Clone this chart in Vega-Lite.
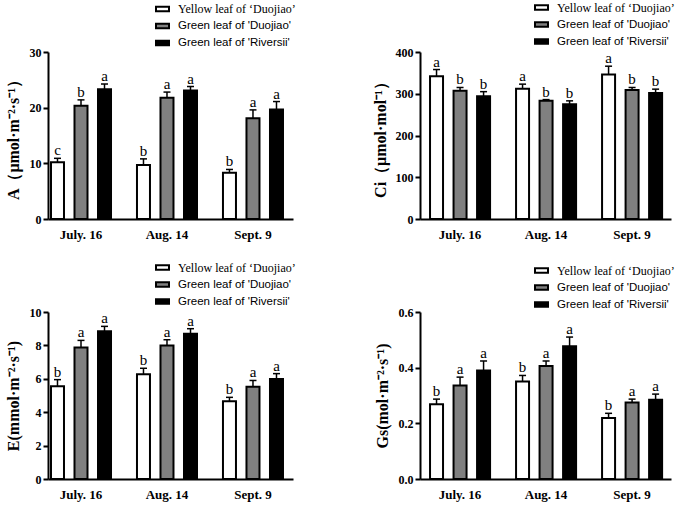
{
  "$schema": "https://vega.github.io/schema/vega-lite/v6.json",
  "padding": {"left": 5, "top": 0, "right": 5, "bottom": 5},
  "background": "white",
  "columns": 2,
  "spacing": {"row": 93, "column": 127},
  "bounds": "flush",
  "resolve": {"scale": {"fill": "independent", "x": "independent", "y": "independent", "xOffset": "independent"}, "legend": {"fill": "independent"}},
  "config": {
    "view": {"stroke": null},
    "axis": {"domainColor": "black", "domainWidth": 2, "tickColor": "black", "tickWidth": 2, "tickSize": 5, "grid": false, "labelColor": "black", "labelFont": "Liberation Serif", "labelFontWeight": "bold", "titleColor": "black", "titleFont": "Liberation Serif", "titleFontWeight": "bold", "labelOverlap": false},
    "axisX": {"ticks": false, "labelFontSize": 13, "labelPadding": 9, "labelAngle": 0, "title": null},
    "axisY": {"labelFontSize": 12, "labelPadding": 2, "titleFontSize": 16, "titlePadding": 8, "tickCount": 10}
  },
  "datasets": {
    "d": [
      {"panel": "A", "date": "July. 16", "group": "Yellow leaf of ‘Duojiao’", "value": 10.2, "upper": 10.9, "letter": "c"},
      {"panel": "A", "date": "July. 16", "group": "Green leaf of 'Duojiao'", "value": 20.35, "upper": 21.4, "letter": "b"},
      {"panel": "A", "date": "July. 16", "group": "Green leaf of 'Riversii'", "value": 23.3, "upper": 24.25, "letter": "a"},
      {"panel": "A", "date": "Aug. 14", "group": "Yellow leaf of ‘Duojiao’", "value": 9.7, "upper": 10.8, "letter": "b"},
      {"panel": "A", "date": "Aug. 14", "group": "Green leaf of 'Duojiao'", "value": 21.8, "upper": 22.8, "letter": "a"},
      {"panel": "A", "date": "Aug. 14", "group": "Green leaf of 'Riversii'", "value": 23.1, "upper": 23.8, "letter": "a"},
      {"panel": "A", "date": "Sept. 9", "group": "Yellow leaf of ‘Duojiao’", "value": 8.3, "upper": 8.9, "letter": "b"},
      {"panel": "A", "date": "Sept. 9", "group": "Green leaf of 'Duojiao'", "value": 18.1, "upper": 19.6, "letter": "a"},
      {"panel": "A", "date": "Sept. 9", "group": "Green leaf of 'Riversii'", "value": 19.65, "upper": 21.1, "letter": "a"},
      {"panel": "Ci", "date": "July. 16", "group": "Yellow leaf of ‘Duojiao’", "value": 342, "upper": 358, "letter": "a"},
      {"panel": "Ci", "date": "July. 16", "group": "Green leaf of 'Duojiao'", "value": 307, "upper": 315, "letter": "b"},
      {"panel": "Ci", "date": "July. 16", "group": "Green leaf of 'Riversii'", "value": 294, "upper": 305, "letter": "b"},
      {"panel": "Ci", "date": "Aug. 14", "group": "Yellow leaf of ‘Duojiao’", "value": 312, "upper": 323, "letter": "a"},
      {"panel": "Ci", "date": "Aug. 14", "group": "Green leaf of 'Duojiao'", "value": 283, "upper": 286, "letter": "b"},
      {"panel": "Ci", "date": "Aug. 14", "group": "Green leaf of 'Riversii'", "value": 275, "upper": 283, "letter": "b"},
      {"panel": "Ci", "date": "Sept. 9", "group": "Yellow leaf of ‘Duojiao’", "value": 346, "upper": 366, "letter": "a"},
      {"panel": "Ci", "date": "Sept. 9", "group": "Green leaf of 'Duojiao'", "value": 309, "upper": 315, "letter": "b"},
      {"panel": "Ci", "date": "Sept. 9", "group": "Green leaf of 'Riversii'", "value": 302, "upper": 311, "letter": "b"},
      {"panel": "E", "date": "July. 16", "group": "Yellow leaf of ‘Duojiao’", "value": 5.55, "upper": 5.95, "letter": "b"},
      {"panel": "E", "date": "July. 16", "group": "Green leaf of 'Duojiao'", "value": 7.88, "upper": 8.3, "letter": "a"},
      {"panel": "E", "date": "July. 16", "group": "Green leaf of 'Riversii'", "value": 8.84, "upper": 9.14, "letter": "a"},
      {"panel": "E", "date": "Aug. 14", "group": "Yellow leaf of ‘Duojiao’", "value": 6.27, "upper": 6.63, "letter": "b"},
      {"panel": "E", "date": "Aug. 14", "group": "Green leaf of 'Duojiao'", "value": 8.0, "upper": 8.34, "letter": "a"},
      {"panel": "E", "date": "Aug. 14", "group": "Green leaf of 'Riversii'", "value": 8.7, "upper": 9.0, "letter": "a"},
      {"panel": "E", "date": "Sept. 9", "group": "Yellow leaf of ‘Duojiao’", "value": 4.65, "upper": 4.89, "letter": "b"},
      {"panel": "E", "date": "Sept. 9", "group": "Green leaf of 'Duojiao'", "value": 5.53, "upper": 5.9, "letter": "a"},
      {"panel": "E", "date": "Sept. 9", "group": "Green leaf of 'Riversii'", "value": 5.99, "upper": 6.31, "letter": "a"},
      {"panel": "Gs", "date": "July. 16", "group": "Yellow leaf of ‘Duojiao’", "value": 0.269, "upper": 0.287, "letter": "b"},
      {"panel": "Gs", "date": "July. 16", "group": "Green leaf of 'Duojiao'", "value": 0.336, "upper": 0.366, "letter": "a"},
      {"panel": "Gs", "date": "July. 16", "group": "Green leaf of 'Riversii'", "value": 0.39, "upper": 0.424, "letter": "a"},
      {"panel": "Gs", "date": "Aug. 14", "group": "Yellow leaf of ‘Duojiao’", "value": 0.35, "upper": 0.372, "letter": "b"},
      {"panel": "Gs", "date": "Aug. 14", "group": "Green leaf of 'Duojiao'", "value": 0.406, "upper": 0.424, "letter": "a"},
      {"panel": "Gs", "date": "Aug. 14", "group": "Green leaf of 'Riversii'", "value": 0.477, "upper": 0.51, "letter": "a"},
      {"panel": "Gs", "date": "Sept. 9", "group": "Yellow leaf of ‘Duojiao’", "value": 0.219, "upper": 0.236, "letter": "b"},
      {"panel": "Gs", "date": "Sept. 9", "group": "Green leaf of 'Duojiao'", "value": 0.275, "upper": 0.287, "letter": "a"},
      {"panel": "Gs", "date": "Sept. 9", "group": "Green leaf of 'Riversii'", "value": 0.285, "upper": 0.305, "letter": "a"}
    ]
  },
  "data": {"name": "d"},
  "concat": [
    {
      "width": 245, "height": 167,
      "transform": [{"filter": "datum.panel === 'A'"}],
      "encoding": {
        "x": {"field": "date", "type": "nominal", "sort": ["July. 16", "Aug. 14", "Sept. 9"], "scale": {"paddingInner": 0.302, "paddingOuter": 0.0756, "align": 0.23}, "axis": {"title": null}},
        "xOffset": {"field": "group", "type": "nominal", "sort": ["Yellow leaf of ‘Duojiao’", "Green leaf of 'Duojiao'", "Green leaf of 'Riversii'"], "scale": {"paddingInner": 0.447, "paddingOuter": 0}}
      },
      "layer": [
        {"mark": {"type": "bar", "stroke": "black", "strokeWidth": 2},
         "encoding": {
           "y": {"field": "value", "type": "quantitative", "title": "A（μmol·m⁻²·s⁻¹）", "scale": {"domain": [0, 30], "nice": false}, "axis": {"values": [0, 10, 20, 30], "labelOverlap": false, "tickCount": 10}},
           "fill": {"field": "group", "type": "nominal", "scale": {"domain": ["Yellow leaf of ‘Duojiao’", "Green leaf of 'Duojiao'", "Green leaf of 'Riversii'"], "range": ["white", "#808080", "black"]},
             "legend": {"orient": "none", "legendX": 107, "legendY": -50.5, "title": null, "direction": "vertical", "symbolType": "M-1,-0.33H1V0.33H-1Z", "symbolSize": 169, "symbolStrokeWidth": 2, "symbolStrokeColor": "black", "labelFont": "Liberation Sans", "labelFontSize": 11.5, "labelColor": "black", "labelOffset": 8, "labelLimit": 0, "rowPadding": 3, "padding": 0,
               "encode": {"labels": {"update": {"font": {"signal": "datum.index === 0 ? 'Liberation Serif' : 'Liberation Sans'"}, "fontSize": {"signal": "datum.index === 0 ? 12 : 11.5"}}}}}}
         }},
        {"mark": {"type": "rule", "strokeWidth": 1.5, "color": "black"},
         "encoding": {"y": {"field": "value", "type": "quantitative", "title": "A（μmol·m⁻²·s⁻¹）", "scale": {"domain": [0, 30], "nice": false}}, "y2": {"field": "upper"}}},
        {"mark": {"type": "tick", "orient": "horizontal", "size": 7, "thickness": 1.5, "color": "black", "opacity": 1},
         "encoding": {"y": {"field": "upper", "type": "quantitative", "title": "A（μmol·m⁻²·s⁻¹）", "scale": {"domain": [0, 30], "nice": false}}}},
        {"mark": {"type": "text", "font": "Liberation Serif", "fontSize": 15, "dy": -3, "baseline": "alphabetic", "color": "black"},
         "encoding": {"y": {"field": "upper", "type": "quantitative", "title": "A（μmol·m⁻²·s⁻¹）", "scale": {"domain": [0, 30], "nice": false}}, "text": {"field": "letter"}}}
      ]
    },
    {
      "width": 251, "height": 167,
      "transform": [{"filter": "datum.panel === 'Ci'"}],
      "encoding": {
        "x": {"field": "date", "type": "nominal", "sort": ["July. 16", "Aug. 14", "Sept. 9"], "scale": {"paddingInner": 0.302, "paddingOuter": 0.11, "align": 0.53}, "axis": {"title": null}},
        "xOffset": {"field": "group", "type": "nominal", "sort": ["Yellow leaf of ‘Duojiao’", "Green leaf of 'Duojiao'", "Green leaf of 'Riversii'"], "scale": {"paddingInner": 0.447, "paddingOuter": 0}}
      },
      "layer": [
        {"mark": {"type": "bar", "stroke": "black", "strokeWidth": 2},
         "encoding": {
           "y": {"field": "value", "type": "quantitative", "title": "Ci（μmol·mol⁻¹）", "scale": {"domain": [0, 400], "nice": false}, "axis": {"values": [0, 100, 200, 300, 400], "titlePadding": 7, "labelOverlap": false, "tickCount": 10}},
           "fill": {"field": "group", "type": "nominal", "scale": {"domain": ["Yellow leaf of ‘Duojiao’", "Green leaf of 'Duojiao'", "Green leaf of 'Riversii'"], "range": ["white", "#808080", "black"]},
             "legend": {"orient": "none", "legendX": 114, "legendY": -52, "title": null, "direction": "vertical", "symbolType": "M-1,-0.33H1V0.33H-1Z", "symbolSize": 169, "symbolStrokeWidth": 2, "symbolStrokeColor": "black", "labelFont": "Liberation Sans", "labelFontSize": 11.5, "labelColor": "black", "labelOffset": 8, "labelLimit": 0, "rowPadding": 3, "padding": 0,
               "encode": {"labels": {"update": {"font": {"signal": "datum.index === 0 ? 'Liberation Serif' : 'Liberation Sans'"}, "fontSize": {"signal": "datum.index === 0 ? 12 : 11.5"}}}}}}
         }},
        {"mark": {"type": "rule", "strokeWidth": 1.5, "color": "black"},
         "encoding": {"y": {"field": "value", "type": "quantitative", "title": "Ci（μmol·mol⁻¹）", "scale": {"domain": [0, 400], "nice": false}}, "y2": {"field": "upper"}}},
        {"mark": {"type": "tick", "orient": "horizontal", "size": 7, "thickness": 1.5, "color": "black", "opacity": 1},
         "encoding": {"y": {"field": "upper", "type": "quantitative", "title": "Ci（μmol·mol⁻¹）", "scale": {"domain": [0, 400], "nice": false}}}},
        {"mark": {"type": "text", "font": "Liberation Serif", "fontSize": 15, "dy": -3, "baseline": "alphabetic", "color": "black"},
         "encoding": {"y": {"field": "upper", "type": "quantitative", "title": "Ci（μmol·mol⁻¹）", "scale": {"domain": [0, 400], "nice": false}}, "text": {"field": "letter"}}}
      ]
    },
    {
      "width": 245, "height": 167,
      "transform": [{"filter": "datum.panel === 'E'"}],
      "encoding": {
        "x": {"field": "date", "type": "nominal", "sort": ["July. 16", "Aug. 14", "Sept. 9"], "scale": {"paddingInner": 0.302, "paddingOuter": 0.0756, "align": 0.23}, "axis": {"title": null}},
        "xOffset": {"field": "group", "type": "nominal", "sort": ["Yellow leaf of ‘Duojiao’", "Green leaf of 'Duojiao'", "Green leaf of 'Riversii'"], "scale": {"paddingInner": 0.447, "paddingOuter": 0}}
      },
      "layer": [
        {"mark": {"type": "bar", "stroke": "black", "strokeWidth": 2},
         "encoding": {
           "y": {"field": "value", "type": "quantitative", "title": "E(mmol·m⁻²·s⁻¹)", "scale": {"domain": [0, 10], "nice": false}, "axis": {"values": [0, 2, 4, 6, 8, 10], "labelOverlap": false, "tickCount": 10}},
           "fill": {"field": "group", "type": "nominal", "scale": {"domain": ["Yellow leaf of ‘Duojiao’", "Green leaf of 'Duojiao'", "Green leaf of 'Riversii'"], "range": ["white", "#808080", "black"]},
             "legend": {"orient": "none", "legendX": 107, "legendY": -52, "title": null, "direction": "vertical", "symbolType": "M-1,-0.33H1V0.33H-1Z", "symbolSize": 169, "symbolStrokeWidth": 2, "symbolStrokeColor": "black", "labelFont": "Liberation Sans", "labelFontSize": 11.5, "labelColor": "black", "labelOffset": 8, "labelLimit": 0, "rowPadding": 3, "padding": 0,
               "encode": {"labels": {"update": {"font": {"signal": "datum.index === 0 ? 'Liberation Serif' : 'Liberation Sans'"}, "fontSize": {"signal": "datum.index === 0 ? 12 : 11.5"}}}}}}
         }},
        {"mark": {"type": "rule", "strokeWidth": 1.5, "color": "black"},
         "encoding": {"y": {"field": "value", "type": "quantitative", "title": "E(mmol·m⁻²·s⁻¹)", "scale": {"domain": [0, 10], "nice": false}}, "y2": {"field": "upper"}}},
        {"mark": {"type": "tick", "orient": "horizontal", "size": 7, "thickness": 1.5, "color": "black", "opacity": 1},
         "encoding": {"y": {"field": "upper", "type": "quantitative", "title": "E(mmol·m⁻²·s⁻¹)", "scale": {"domain": [0, 10], "nice": false}}}},
        {"mark": {"type": "text", "font": "Liberation Serif", "fontSize": 15, "dy": -3, "baseline": "alphabetic", "color": "black"},
         "encoding": {"y": {"field": "upper", "type": "quantitative", "title": "E(mmol·m⁻²·s⁻¹)", "scale": {"domain": [0, 10], "nice": false}}, "text": {"field": "letter"}}}
      ]
    },
    {
      "width": 251, "height": 167,
      "transform": [{"filter": "datum.panel === 'Gs'"}],
      "encoding": {
        "x": {"field": "date", "type": "nominal", "sort": ["July. 16", "Aug. 14", "Sept. 9"], "scale": {"paddingInner": 0.302, "paddingOuter": 0.11, "align": 0.53}, "axis": {"title": null}},
        "xOffset": {"field": "group", "type": "nominal", "sort": ["Yellow leaf of ‘Duojiao’", "Green leaf of 'Duojiao'", "Green leaf of 'Riversii'"], "scale": {"paddingInner": 0.447, "paddingOuter": 0}}
      },
      "layer": [
        {"mark": {"type": "bar", "stroke": "black", "strokeWidth": 2},
         "encoding": {
           "y": {"field": "value", "type": "quantitative", "title": "Gs(mol·m⁻²·s⁻¹)", "scale": {"domain": [0, 0.6], "nice": false}, "axis": {"values": [0, 0.2, 0.4, 0.6], "format": ".1f", "labelOverlap": false, "tickCount": 10}},
           "fill": {"field": "group", "type": "nominal", "scale": {"domain": ["Yellow leaf of ‘Duojiao’", "Green leaf of 'Duojiao'", "Green leaf of 'Riversii'"], "range": ["white", "#808080", "black"]},
             "legend": {"orient": "none", "legendX": 114, "legendY": -49, "title": null, "direction": "vertical", "symbolType": "M-1,-0.33H1V0.33H-1Z", "symbolSize": 169, "symbolStrokeWidth": 2, "symbolStrokeColor": "black", "labelFont": "Liberation Sans", "labelFontSize": 11.5, "labelColor": "black", "labelOffset": 8, "labelLimit": 0, "rowPadding": 3, "padding": 0,
               "encode": {"labels": {"update": {"font": {"signal": "datum.index === 0 ? 'Liberation Serif' : 'Liberation Sans'"}, "fontSize": {"signal": "datum.index === 0 ? 12 : 11.5"}}}}}}
         }},
        {"mark": {"type": "rule", "strokeWidth": 1.5, "color": "black"},
         "encoding": {"y": {"field": "value", "type": "quantitative", "title": "Gs(mol·m⁻²·s⁻¹)", "scale": {"domain": [0, 0.6], "nice": false}}, "y2": {"field": "upper"}}},
        {"mark": {"type": "tick", "orient": "horizontal", "size": 7, "thickness": 1.5, "color": "black", "opacity": 1},
         "encoding": {"y": {"field": "upper", "type": "quantitative", "title": "Gs(mol·m⁻²·s⁻¹)", "scale": {"domain": [0, 0.6], "nice": false}}}},
        {"mark": {"type": "text", "font": "Liberation Serif", "fontSize": 15, "dy": -3, "baseline": "alphabetic", "color": "black"},
         "encoding": {"y": {"field": "upper", "type": "quantitative", "title": "Gs(mol·m⁻²·s⁻¹)", "scale": {"domain": [0, 0.6], "nice": false}}, "text": {"field": "letter"}}}
      ]
    }
  ]
}
